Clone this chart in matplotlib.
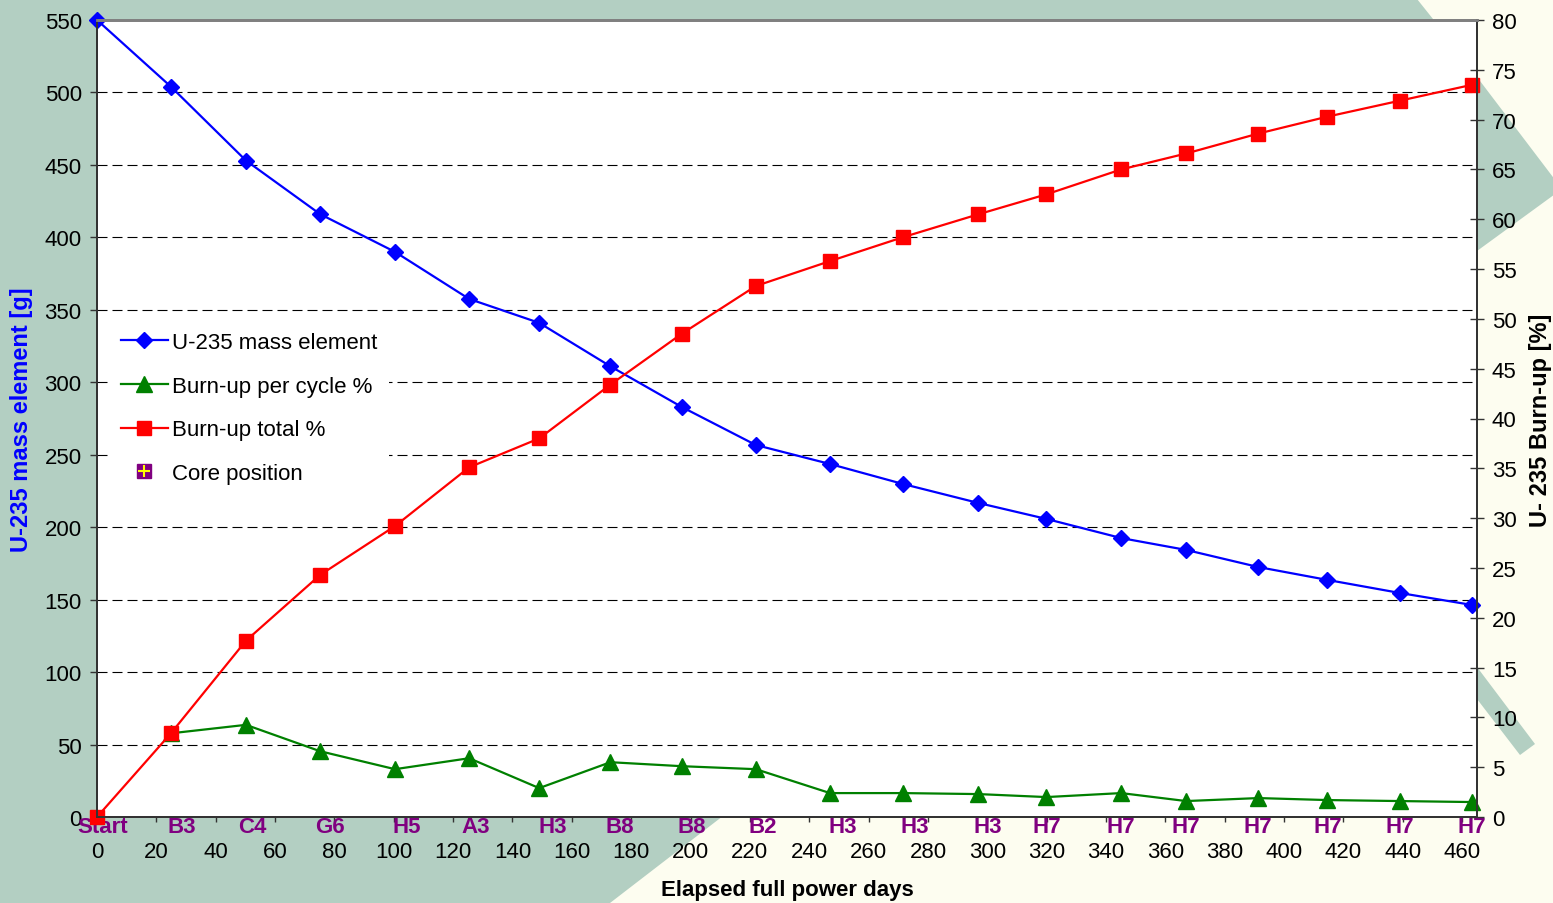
import numpy as np
import matplotlib
matplotlib.use('Agg')
import matplotlib.pyplot as plt
from matplotlib.lines import Line2D
from matplotlib.patches import Polygon
from matplotlib.ticker import MultipleLocator

plt.rcParams['font.family'] = ['Liberation Sans', 'DejaVu Sans']

# Elapsed full power days of each measurement
days = [0, 24.9, 50.2, 75.2, 100.4, 125.4, 149, 173, 197, 222, 247, 271.6,
        297, 319.9, 345.1, 367, 391.3, 414.6, 439, 463.4]
u235_mass = [550, 504, 453, 416, 390, 357.5, 341, 311, 283, 256.7, 243.6,
             229.8, 216.7, 205.7, 192.5, 184.3, 172.5, 163.6, 154.6, 146.3]
burnup_cycle = [np.nan, 8.4, 9.25, 6.6, 4.8, 5.9, 2.9, 5.5, 5.1, 4.8, 2.4,
                2.4, 2.3, 2.0, 2.4, 1.6, 1.9, 1.7, 1.6, 1.5]
burnup_total = [0, 8.4, 17.7, 24.3, 29.2, 35.1, 38.0, 43.4, 48.5, 53.3, 55.8,
                58.2, 60.5, 62.5, 65.0, 66.6, 68.6, 70.3, 71.9, 73.5]
core_position = ['Start', 'B3', 'C4', 'G6', 'H5', 'A3', 'H3', 'B8', 'B8', 'B2',
                 'H3', 'H3', 'H3', 'H7', 'H7', 'H7', 'H7', 'H7', 'H7', 'H7']
core_days = [2, 28.4, 52.3, 78.6, 104.5, 127.7, 153.4, 176.2, 200.5, 224.4,
             251.3, 275.6, 300, 320, 345.1, 367, 391.3, 414.6, 439, 463.4]

W, H = 1553, 904
fig = plt.figure(figsize=(W / 100, H / 100), dpi=100, facecolor='#fdfdf0')


def px(x, y):
    return (x / W, 1 - y / H)


# slide background shapes
green = '#b3cfc2'
for pts in ([(0, 0), (1417, 0), (1445, 35), (771, 780), (610, 904), (0, 904)],
            [(1477, 78), (1562, 190), (1477, 252)],
            [(1477, 668), (1535, 745), (1520, 756), (1477, 700)]):
    fig.add_artist(Polygon([px(*p) for p in pts], closed=True, facecolor=green,
                           edgecolor='none', transform=fig.transFigure, zorder=-5))

ax = fig.add_axes([97 / W, (H - 818) / H, 1380 / W, 797 / H])
ax.set_facecolor('white')
ax2 = ax.twinx()

l1, = ax.plot(days, u235_mass, color='#0000ff', lw=1.6, marker='D', ms=8,
              label='U-235 mass element', clip_on=False)
l2, = ax2.plot(days, burnup_cycle, color='#008000', lw=1.6, marker='^', ms=11,
               label='Burn-up per cycle %', clip_on=False)
l3, = ax2.plot(days, burnup_total, color='#ff0000', lw=1.6, marker='s', ms=10.5,
               label='Burn-up total %', clip_on=False)

ax.set_xlim(0, 465)
ax.set_ylim(0, 550)
ax2.set_ylim(0, 80)
ax.xaxis.set_major_locator(MultipleLocator(20))
ax.yaxis.set_major_locator(MultipleLocator(50))
ax2.yaxis.set_major_locator(MultipleLocator(5))

ax.grid(axis='y', color='black', lw=0.8, dashes=(9, 4.5))
ax.set_axisbelow(True)

for a in (ax, ax2):
    for s in a.spines.values():
        s.set_color('#333333')
        s.set_linewidth(1.4)
    a.spines['top'].set_color('#808080')
    a.spines['top'].set_linewidth(2)

ax.tick_params(axis='x', direction='out', length=3.6, width=1, pad=14,
               labelsize=16, color='#333333')
ax.tick_params(axis='y', direction='out', length=5, width=1, pad=6,
               labelsize=16, color='#333333')
ax2.tick_params(axis='y', direction='inout', length=9.5, width=1, pad=6,
                labelsize=16, color='#333333')

# core position labels under the axis
for d, name in zip(core_days, core_position):
    ax.annotate(name, (d, 0), xytext=(0, -6.5), textcoords='offset points',
                ha='center', va='center', fontsize=16, fontweight='bold',
                color='#800080', annotation_clip=False)

fig.text(22 / W, 1 - 420 / H, 'U-235 mass element [g]', rotation=90,
         ha='center', va='center', fontsize=17, fontweight='bold', color='#0000ff')
fig.text(1540 / W, 1 - 420 / H, 'U- 235 Burn-up [%]', rotation=90,
         ha='center', va='center', fontsize=17, fontweight='bold', color='black')
fig.text(787 / W, 1 - 891 / H, 'Elapsed full power days',
         ha='center', va='center', fontsize=16, fontweight='bold', color='black')

core_handle = (Line2D([], [], ls='none', marker='s', ms=10, color='#800080'),
               Line2D([], [], ls='none', marker='+', ms=9, mew=1.5, color='#ffff00'))
leg = ax2.legend([l1, l2, l3, core_handle],
                 [l1.get_label(), l2.get_label(), l3.get_label(), 'Core position'],
                 loc='upper left', bbox_to_anchor=((110 - 97) / 1380, (818 - 322) / 797),
                 borderaxespad=0, borderpad=0.5, fontsize=16, handlelength=2.1,
                 handletextpad=0.2, labelspacing=1.02, numpoints=1,
                 frameon=True, fancybox=False, framealpha=1)
leg.get_frame().set_facecolor('white')
leg.get_frame().set_edgecolor('none')

fig.savefig('out.png', dpi=100, facecolor=fig.get_facecolor())
